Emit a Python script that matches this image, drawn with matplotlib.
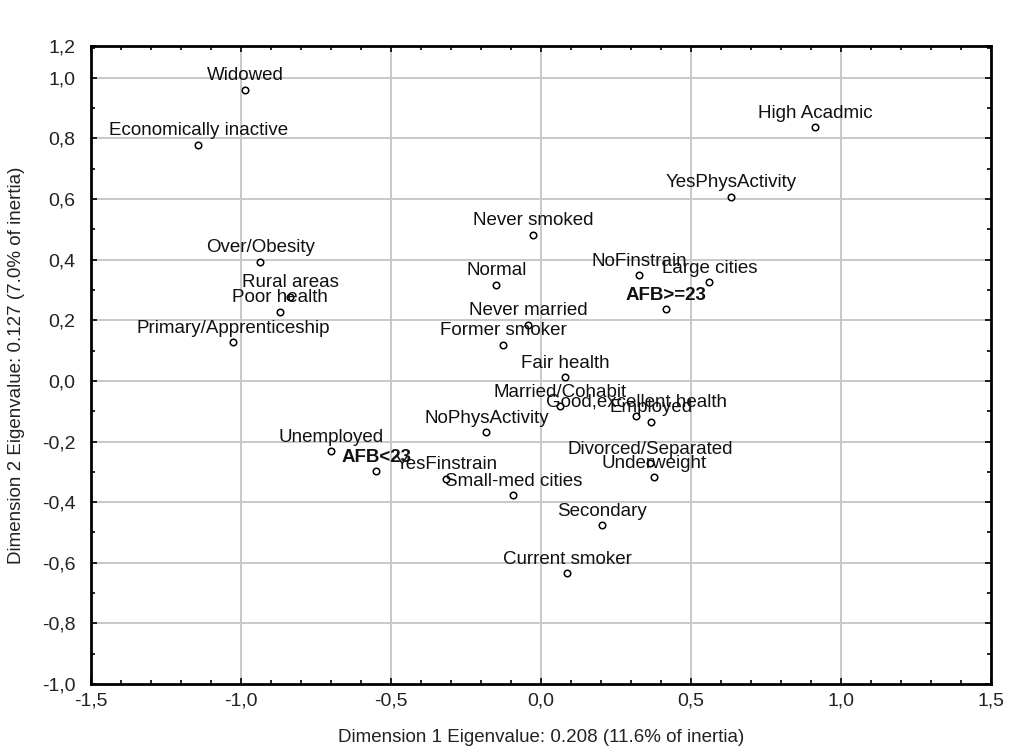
import matplotlib.pyplot as plt
import numpy as np
from matplotlib.ticker import MultipleLocator

plt.rcParams['font.family'] = ['Liberation Sans', 'DejaVu Sans']

labels = ["Widowed", "Economically inactive", "High Acadmic", "YesPhysActivity",
          "Never smoked", "Over/Obesity", "Normal", "NoFinstrain", "Large cities",
          "Rural areas", "Poor health", "AFB>=23", "Never married",
          "Primary/Apprenticeship", "Former smoker", "Fair health", "Married/Cohabit",
          "Good,excellent health", "Employed", "NoPhysActivity", "Unemployed",
          "Divorced/Separated", "AFB<23", "YesFinstrain", "Underweight",
          "Small-med cities", "Secondary", "Current smoker"]
dim1 = [-0.986, -1.142, 0.915, 0.634, -0.026, -0.935, -0.149, 0.328, 0.561,
        -0.836, -0.869, 0.418, -0.042, -1.026, -0.126, 0.081, 0.064,
        0.318, 0.368, -0.182, -0.699, 0.365, -0.549, -0.315, 0.378,
        -0.092, 0.204, 0.088]
dim2 = [0.960, 0.779, 0.837, 0.608, 0.482, 0.394, 0.318, 0.348, 0.325,
        0.278, 0.228, 0.236, 0.186, 0.127, 0.120, 0.012, -0.084,
        -0.117, -0.134, -0.170, -0.232, -0.272, -0.298, -0.322, -0.318,
        -0.378, -0.476, -0.635]
bold = ["AFB>=23", "AFB<23"]

xticks = [-1.5, -1.0, -0.5, 0.0, 0.5, 1.0, 1.5]
xticklabels = ["-1,5", "-1,0", "-0,5", "0,0", "0,5", "1,0", "1,5"]
yticks = [-1.0, -0.8, -0.6, -0.4, -0.2, 0.0, 0.2, 0.4, 0.6, 0.8, 1.0]
yticklabels = ["-1,0", "-0,8", "-0,6", "-0,4", "-0,2", "0,0", "0,2", "0,4", "0,6", "0,8", "1,0"]
ytop = 1.105

fig = plt.figure(figsize=(10.14, 7.54), dpi=100)
ax = fig.add_axes([0.0897, 0.0928, 0.8876, 0.8462])

ax.set_xlim(-1.5, 1.5)
ax.set_ylim(-1.0, ytop)

for v in xticks[1:-1]:
    ax.axvline(v, color="#c8c8c8", lw=1.4, zorder=0)
for v in yticks[1:]:
    ax.axhline(v, color="#c8c8c8", lw=1.4, zorder=0)

ax.scatter(dim1, dim2, s=22, facecolors="white", edgecolors="black", linewidths=1.1, zorder=3)

for name, x, y in zip(labels, dim1, dim2):
    ax.annotate(name, (x, y), xytext=(0, 4), textcoords="offset points",
                ha="center", va="bottom", fontsize=13.5, color="#111111",
                fontweight="bold" if name in bold else "normal", zorder=4)

ax.set_xticks(xticks)
ax.set_xticklabels(xticklabels)
ax.set_yticks(yticks + [ytop])
ax.set_yticklabels(yticklabels + ["1,2"])
ax.xaxis.set_minor_locator(MultipleLocator(0.1))
ax.yaxis.set_minor_locator(MultipleLocator(0.1))
ax.tick_params(which="both", direction="in", top=True, right=True, labelsize=14,
               labelcolor="#222222")
ax.tick_params(axis="y", which="major", length=4, width=1.2, pad=11)
ax.tick_params(axis="x", which="major", length=4, width=1.2, pad=6)
ax.tick_params(which="minor", length=3, width=1.2)
for s in ax.spines.values():
    s.set_linewidth(2)

ax.set_xlabel("Dimension 1 Eigenvalue: 0.208 (11.6% of inertia)", fontsize=13.5,
              color="#222222", labelpad=14)
ax.set_ylabel("Dimension 2 Eigenvalue: 0.127 (7.0% of inertia)", fontsize=13.5,
              color="#222222", labelpad=12)

plt.savefig("out.png", dpi=100)
